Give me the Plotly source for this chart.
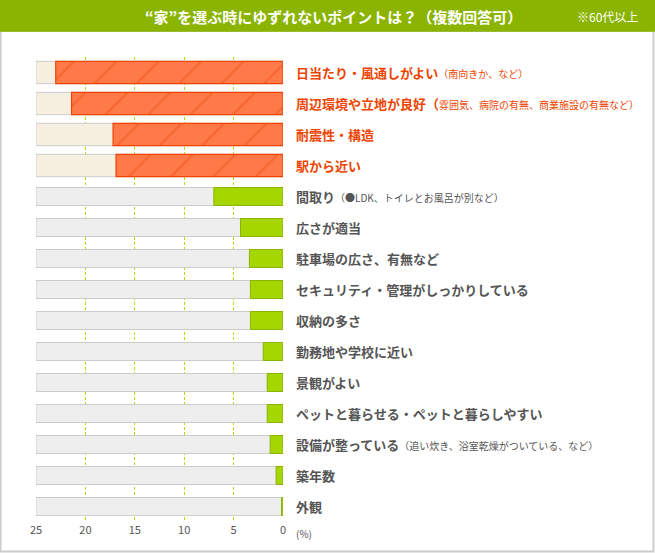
import plotly.graph_objects as go

# data (percent, 60代以上, 複数回答可)
labels = ["日当たり・風通しがよい", "周辺環境や立地が良好（", "耐震性・構造", "駅から近い",
          "間取り", "広さが適当", "駐車場の広さ、有無など", "セキュリティ・管理がしっかりしている",
          "収納の多さ", "勤務地や学校に近い", "景観がよい", "ペットと暮らせる・ペットと暮らしやすい",
          "設備が整っている", "築年数", "外観"]
notes = ["（南向きか、など）", "雰囲気、病院の有無、商業施設の有無など）", "", "",
         "（●LDK、トイレとお風呂が別など）", "", "", "", "", "", "", "",
         "（追い炊き、浴室乾燥がついている、など）", "", ""]
values = [23.0, 21.4, 17.2, 16.9, 7.0, 4.3, 3.4, 3.3, 3.3, 2.0, 1.6, 1.6, 1.3, 0.7, 0.15]
top_n = 4
ticks = [25, 20, 15, 10, 5, 0]

W, H = 655, 553
L, R, T, B = 36, 372, 57, 31
ORANGE = "#ff7a48"
ORANGE_LINE = "#ee4400"
GREEN = "#a5d600"
GREEN_LINE = "#8ab400"
GRAY_TXT = "#555555"
FONT = "Noto Sans CJK JP"

cats = [str(i) for i in range(len(labels))]
top_c, rest_c = cats[:top_n], cats[top_n:]

fig = go.Figure()
# background tracks
fig.add_trace(go.Bar(y=top_c, x=[25] * top_n, orientation="h", width=0.72,
                     marker=dict(color="#f7f0e1", line=dict(color="#cccccc", width=1)),
                     hoverinfo="skip"))
fig.add_trace(go.Bar(y=rest_c, x=[25] * len(rest_c), orientation="h", width=0.58,
                     marker=dict(color="#eeeeee", line=dict(color="#cccccc", width=1)),
                     hoverinfo="skip"))
# values
fig.add_trace(go.Bar(y=top_c, x=values[:top_n], orientation="h", width=0.72,
                     marker=dict(color=ORANGE, line=dict(color=ORANGE_LINE, width=1.2),
                                 pattern=dict(shape="/", fgcolor="#ee4a10", bgcolor=ORANGE,
                                              size=30, solidity=0.06))))
fig.add_trace(go.Bar(y=rest_c, x=values[top_n:], orientation="h", width=0.58,
                     marker=dict(color=GREEN, line=dict(color=GREEN_LINE, width=1))))

# category labels to the right of the plot
for c, lab, note, i in zip(cats, labels, notes, range(len(cats))):
    col = ORANGE_LINE if i < top_n else GRAY_TXT
    txt = "<b>" + lab + "</b>"
    if note:
        txt += "<span style='font-size:10px'>" + note + "</span>"
    fig.add_annotation(x=1, xref="paper", y=c, yref="y", xanchor="left", yanchor="middle",
                       xshift=11, text=txt, showarrow=False,
                       font=dict(size=13, color=col, family=FONT))

fig.add_annotation(x=1, xref="paper", y=0, yref="paper", xanchor="left", yanchor="middle",
                   xshift=11, yshift=-11, text="(%)", showarrow=False,
                   font=dict(size=10, color=GRAY_TXT, family=FONT))

# helpers to place things in pixel positions
pw, ph = W - L - R, H - T - B


def px(x):
    return (x - L) / pw


def py(y):
    return (H - B - y) / ph


# title bar + frame
fig.add_shape(type="rect", xref="paper", yref="paper", x0=px(0.5), x1=px(653.5),
              y0=py(551.5), y1=py(31), line=dict(color="#cccccc", width=2),
              fillcolor="rgba(0,0,0,0)", layer="below")
fig.add_shape(type="rect", xref="paper", yref="paper", x0=px(0), x1=px(655),
              y0=py(31.7), y1=py(0), line=dict(width=0), fillcolor="#8ab400", layer="below")
fig.add_annotation(x=px(333), y=py(16), xref="paper", yref="paper", showarrow=False,
                   xanchor="center", yanchor="middle",
                   text="<b>“家”を選ぶ時にゆずれないポイントは？（複数回答可）</b>",
                   font=dict(size=15, color="white", family=FONT))
fig.add_annotation(x=px(607), y=py(16), xref="paper", yref="paper", showarrow=False,
                   xanchor="center", yanchor="middle", text="※60代以上",
                   font=dict(size=12, color="white", family=FONT))

fig.update_xaxes(range=[25, 0], tickvals=ticks, ticktext=[str(t) for t in ticks],
                 showgrid=True, gridcolor="#b4dc00", griddash="3px,2px", gridwidth=1,
                 zeroline=False, showline=False, ticks="",
                 tickfont=dict(size=11, color=GRAY_TXT, family=FONT))
fig.update_yaxes(categoryorder="array", categoryarray=cats, autorange="reversed",
                 showticklabels=False, showgrid=False, zeroline=False)

fig.update_layout(width=W, height=H, margin=dict(l=L, r=R, t=T, b=B),
                  barmode="overlay", showlegend=False,
                  paper_bgcolor="white", plot_bgcolor="white",
                  font=dict(family=FONT))

# page body has a default margin; drop it so the figure sits at the window corner
fig.write_html("out.html", config={"displayModeBar": False},
               post_script="document.body.style.margin='0';")
